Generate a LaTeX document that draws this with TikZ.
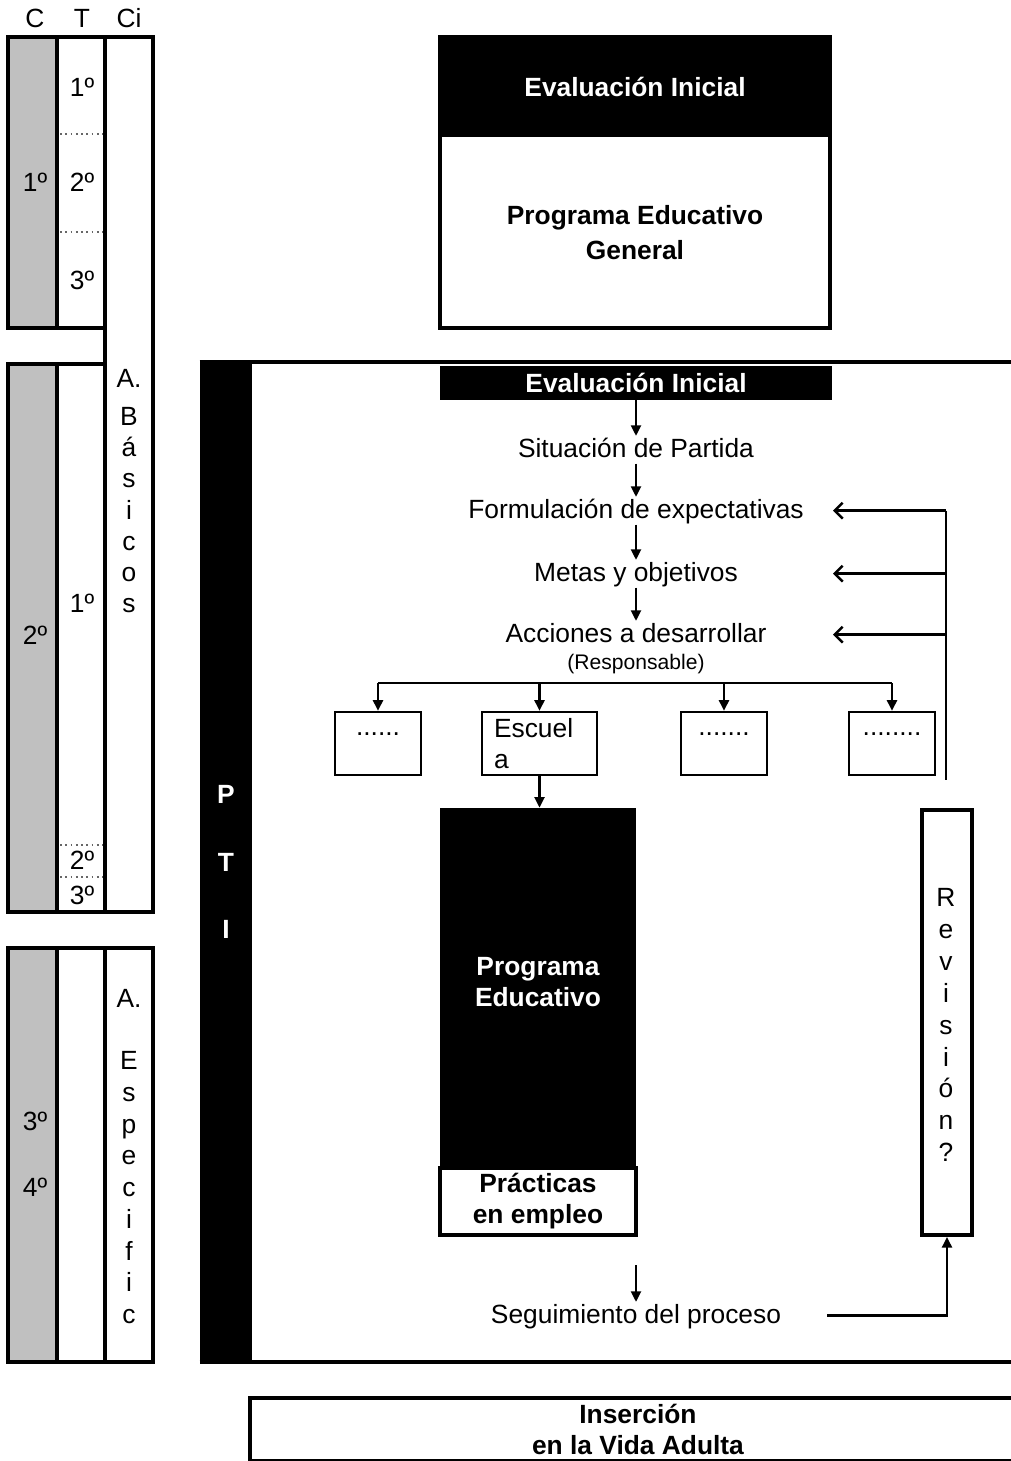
\documentclass[tikz,border=0pt]{standalone}
\usepackage{fontspec}
\setmainfont{Liberation Sans}
\usetikzlibrary{arrows.meta}
\definecolor{colgray}{HTML}{C0C0C0}
\begin{document}
\begin{tikzpicture}[x=0.02cm,y=-0.02cm,
  every node/.style={font=\fontsize{15}{17.6}\selectfont, inner sep=0pt},
  lbl/.style={anchor=base, text height=11.3pt, text depth=3pt, inner sep=0.5pt},
  lc/.style={anchor=base},
  thk/.style={line width=2.3pt},
  thn/.style={line width=1.4pt},
  arr/.style={thn, -{Triangle[length=6pt,width=5.6pt]}},
  oarr/.style={thn, -{Straight Barb[length=4.5pt,width=9pt]}},
  blackbox/.style={fill=black, text=white, font=\bfseries\fontsize{15}{17.6}\selectfont, align=center},
  smallbox/.style={draw, thn, minimum width=1.72cm, minimum height=1.26cm, text height=4.5pt, text depth=13.5pt},
  dotsep/.style={draw=gray!80!black, line width=1pt, dotted}
]
\clip (0,0) rectangle (1011,1461);

% ---------- left column table ----------
\fill[colgray] (8,37) rectangle (57,328);
\fill[colgray] (8,364) rectangle (57,912);
\fill[colgray] (8,948) rectangle (57,1362);
\draw[dotsep] (60,134) -- (103,134) (60,232) -- (103,232) (60,845) -- (103,845) (60,877) -- (103,877);
\draw[thk, line join=miter] (105,328) -- (8,328) -- (8,37) -- (153,37) -- (153,912) -- (8,912) -- (8,364) -- (105,364);
\draw[thk] (105,37) -- (105,912) (57,37) -- (57,328) (57,364) -- (57,912);
\draw[thk] (8,948) rectangle (153,1362) (57,948) -- (57,1362) (105,948) -- (105,1362);

\node[lc] (hC) at (35,27) {C};
\node[lc] (hT) at (82,27) {T};
\node[lc] (hCi) at (129,27) {Ci};

\node[lc] (c1) at (35,191) {1º};
\node[lc] (t11) at (82,96) {1º};
\node[lc] (t12) at (82,191) {2º};
\node[lc] (t13) at (82,289) {3º};

\node[lc] (c2) at (35,644) {2º};
\node[lc] (t21) at (82,612) {1º};
\node[lc] (t22) at (82,869) {2º};
\node[lc] (t23) at (82,904) {3º};

\node[lc] (c3) at (35,1130.5) {3º};
\node[lc] (c4) at (35,1196.5) {4º};

\node[lc] (ab) at (129,387) {A.};
\foreach \c [count=\i] in {B,á,s,i,c,o,s}
  \node[lc] (bas\i) at (129,{425.5+31.2*(\i-1)}) {\c};
\node[lc] (ae) at (129,1007) {A.};
\foreach \c [count=\i] in {E,s,p,e,c,i,f,i,c}
  \node[lc] (esp\i) at (129,{1069.5+31.75*(\i-1)}) {\c};

% ---------- top block ----------
\node[blackbox, minimum width=7.8cm, minimum height=2cm] (ev1) at (635,87) {Evaluación Inicial};
\node[minimum width=7.8cm, minimum height=3.82cm, font=\bfseries\fontsize{15}{17.6}\selectfont, align=center] (peg) at (635,232.5) {Programa Educativo\\[2pt]General};
\draw[thk] (ev1.north west) rectangle (peg.south east);

% ---------- PTI frame ----------
\node[blackbox, minimum width=1.04cm, minimum height=20cm, font=\bfseries\fontsize{15}{38.6}\selectfont] (pti) at (226,862) {P\\T\\I};
\coordinate (frR) at (1030,0);
\draw[thk] (pti.north west) -- (pti.north west -| frR);
\draw[thk] (pti.south west) -- (pti.south west -| frR);

\node[blackbox, minimum width=7.84cm, minimum height=0.68cm] (ev2) at (636,383) {Evaluación Inicial};
\node[lbl] (sit) at (636,457) {Situación de Partida};
\node[lbl] (form) at (636,518) {Formulación de expectativas};
\node[lbl] (metas) at (636,581) {Metas y objetivos};
\node[lbl] (acc) at (636,642) {Acciones a desarrollar};
\node[anchor=base, font=\fontsize{12}{14}\selectfont] (resp) at (636,669) {(Responsable)};

\draw[arr] (ev2.south) -- (sit.north);
\draw[arr] (sit.south) -- (form.north);
\draw[arr] (form.south) -- (metas.north);
\draw[arr] (metas.south) -- (acc.north);

% branch to responsible boxes
\coordinate (bar) at (0,683);
\node[smallbox] (b1) at (378,743.5) {......};
\node[draw, thn, minimum width=2.3cm, minimum height=1.26cm, align=left, text width=1.82cm] (b2) at (539.5,743.5) {Escuel\\a};
\node[smallbox] (b3) at (724,743.5) {.......};
\node[smallbox] (b4) at (892,743.5) {........};
\draw[thn] (b1.north |- bar) -- (b4.north |- bar);
\foreach \b in {b1,b2,b3,b4}
  \draw[arr] (\b.north |- bar) -- (\b.north);

% programa educativo
\node[blackbox, minimum width=3.92cm, minimum height=7.2cm] (peb) at (538,988) {Programa\\Educativo\\[-11pt]\mbox{}};
\draw[arr] (b2.south) -- (b2.south |- peb.north);
\node[draw, thk, fill=white, font=\bfseries\fontsize{15}{17.6}\selectfont, align=center, minimum width=3.92cm, minimum height=1.34cm] (pract) at (538,1201.5) {Prácticas\\en empleo};

% revision
\node[draw, thk, minimum width=1.0cm, minimum height=8.5cm] (rev) at (947,1022.5) {};
\foreach \c [count=\i] in {R,e,v,i,s,i,ó,n,?}
  \node[lc] (rv\i) at (946,{906.5+31.9*(\i-1)}) {\c};

% feedback
\coordinate (fbx) at (946,0);
\coordinate (tipx) at (833,0);
\coordinate (fbB) at (946,780);
\draw[thn] (fbx |- form) -- (fbB);
\foreach \t in {form,metas,acc}
  \draw[oarr] (fbx |- \t) -- (tipx |- \t);

% seguimiento
\node[lbl] (seg) at (636,1323) {Seguimiento del proceso};
\coordinate (segin) at (636,1265);
\draw[arr] (segin) -- (seg.north);
\coordinate (retS) at (827,0);
\draw[arr] (retS |- seg) -| (rev.south);

% insercion
\node[draw, thk, anchor=north west, minimum width=15.52cm, minimum height=1.26cm, font=\bfseries\fontsize{15}{17.6}\selectfont, align=center] (ins) at (248,1396) {Inserción\\en la Vida Adulta};
\end{tikzpicture}
\end{document}
